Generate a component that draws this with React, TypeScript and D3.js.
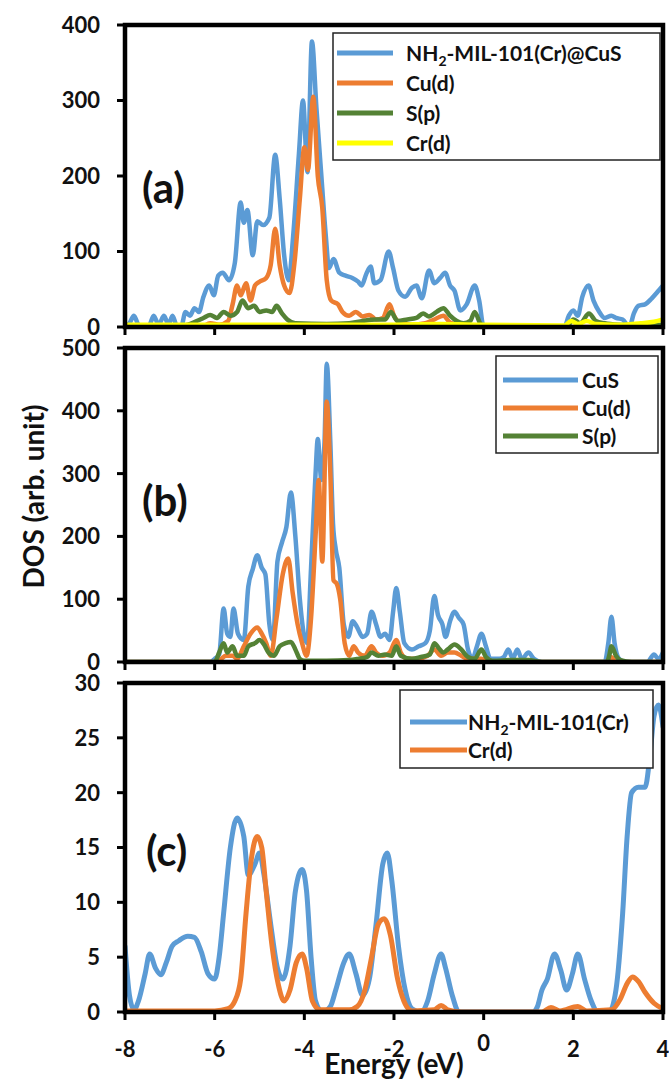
import React from "react";
import * as d3 from "d3";

type Pt = [number, number];

// Shared energy axis (eV)
const energyTicks: number[] = [-8, -6, -4, -2, 0, 2, 4];
const energyDomain: [number, number] = [-8, 4];

// DOS tick values per panel
const ticksA: number[] = [0, 100, 200, 300, 400];
const ticksB: number[] = [0, 100, 200, 300, 400, 500];
const ticksC: number[] = [0, 5, 10, 15, 20, 25, 30];

// (a) NH2-MIL-101(Cr)@CuS composite
const compositeTotal: Pt[] = [
  [-8.0, 0], [-7.9, 5], [-7.8, 15], [-7.7, 3], [-7.55, 0], [-7.45, 3], [-7.36, 15], [-7.25, 3],
  [-7.13, 15], [-7.03, 3], [-6.94, 15], [-6.85, 2], [-6.75, 0], [-6.65, 20], [-6.55, 15], [-6.45, 25],
  [-6.35, 20], [-6.25, 40], [-6.12, 55], [-6.02, 42], [-5.92, 68], [-5.82, 72], [-5.68, 62], [-5.55, 85],
  [-5.42, 165], [-5.35, 138], [-5.27, 155], [-5.15, 95], [-5.05, 140], [-4.92, 135], [-4.78, 145],
  [-4.65, 228], [-4.55, 170], [-4.45, 95], [-4.35, 62], [-4.25, 120], [-4.12, 230], [-4.03, 300],
  [-3.93, 205], [-3.83, 378], [-3.73, 290], [-3.62, 200], [-3.52, 120], [-3.45, 78], [-3.35, 90],
  [-3.22, 72], [-3.08, 68], [-2.93, 65], [-2.8, 60], [-2.72, 55], [-2.62, 70], [-2.52, 80], [-2.44, 58],
  [-2.3, 62], [-2.12, 100], [-2.02, 78], [-1.9, 48], [-1.75, 40], [-1.6, 52], [-1.5, 55], [-1.38, 38],
  [-1.22, 75], [-1.1, 58], [-0.97, 65], [-0.86, 72], [-0.75, 55], [-0.65, 48], [-0.52, 22], [-0.38, 30],
  [-0.2, 55], [-0.1, 35], [0.0, 0], [1.8, 0], [1.9, 15], [2.0, 22], [2.1, 15], [2.2, 40], [2.34, 55],
  [2.45, 35], [2.58, 20], [2.7, 12], [2.85, 15], [2.95, 12], [3.1, 10], [3.25, 0], [3.35, 18],
  [3.45, 28], [3.6, 30], [3.75, 38], [3.9, 48], [4.0, 55],
];
const compositeCuD: Pt[] = [
  [-8, 0], [-6.3, 0], [-6.1, 5], [-5.9, 3], [-5.7, 8], [-5.6, 30], [-5.5, 55], [-5.42, 42], [-5.3, 58],
  [-5.2, 35], [-5.1, 55], [-5.0, 60], [-4.85, 65], [-4.75, 82], [-4.65, 130], [-4.55, 82], [-4.45, 55],
  [-4.33, 45], [-4.22, 85], [-4.1, 170], [-4.0, 238], [-3.92, 208], [-3.8, 305], [-3.7, 200],
  [-3.6, 158], [-3.5, 62], [-3.4, 35], [-3.25, 30], [-3.15, 20], [-3.0, 15], [-2.85, 20], [-2.7, 14],
  [-2.55, 16], [-2.4, 10], [-2.25, 12], [-2.1, 30], [-2.0, 15], [-1.85, 5], [-1.6, 3], [-1.3, 5],
  [-1.1, 10], [-0.9, 15], [-0.75, 6], [-0.5, 2], [0, 0], [4, 0],
];
const compositeSP: Pt[] = [
  [-8, 0], [-7, 0], [-6.6, 3], [-6.4, 8], [-6.25, 12], [-6.1, 16], [-5.95, 12], [-5.8, 20], [-5.65, 15],
  [-5.5, 20], [-5.38, 35], [-5.25, 25], [-5.12, 28], [-5.0, 20], [-4.85, 22], [-4.72, 20], [-4.62, 28],
  [-4.5, 18], [-4.38, 10], [-4.2, 5], [-3.5, 4], [-3.0, 5], [-2.7, 8], [-2.4, 10], [-2.2, 10],
  [-2.07, 20], [-1.92, 8], [-1.7, 10], [-1.5, 12], [-1.35, 18], [-1.22, 14], [-1.05, 20], [-0.9, 25],
  [-0.75, 15], [-0.6, 8], [-0.45, 5], [-0.3, 8], [-0.2, 20], [-0.08, 5], [0, 0], [1.85, 0], [2.0, 10],
  [2.15, 5], [2.35, 18], [2.5, 8], [2.7, 5], [3.0, 3], [3.5, 2], [4.0, 3],
];
const compositeCrD: Pt[] = [
  [-8, 3], [-6, 3], [-4, 3], [-2, 3], [-1, 4], [0, 3], [1.8, 2], [1.95, 8], [2.1, 4], [2.3, 8],
  [2.5, 4], [3.0, 3], [3.5, 5], [3.8, 7], [4.0, 10],
];

// (b) bare CuS
const cusTotal: Pt[] = [
  [-8, 0], [-6.1, 0], [-6.0, 5], [-5.9, 12], [-5.8, 85], [-5.72, 45], [-5.65, 40], [-5.58, 85],
  [-5.48, 45], [-5.35, 35], [-5.25, 120], [-5.15, 148], [-5.05, 170], [-4.95, 150], [-4.87, 140],
  [-4.78, 60], [-4.7, 35], [-4.6, 160], [-4.5, 190], [-4.4, 215], [-4.3, 270], [-4.2, 200], [-4.1, 100],
  [-4.0, 40], [-3.94, 30], [-3.85, 150], [-3.75, 300], [-3.7, 355], [-3.62, 290], [-3.55, 350],
  [-3.5, 475], [-3.42, 350], [-3.36, 220], [-3.3, 180], [-3.22, 150], [-3.12, 60], [-3.02, 40],
  [-2.92, 65], [-2.82, 55], [-2.7, 40], [-2.6, 45], [-2.5, 80], [-2.4, 60], [-2.3, 40], [-2.2, 45],
  [-2.1, 35], [-2.02, 80], [-1.95, 118], [-1.87, 80], [-1.77, 30], [-1.6, 20], [-1.45, 25], [-1.3, 30],
  [-1.2, 50], [-1.1, 105], [-1.02, 75], [-0.92, 60], [-0.85, 40], [-0.75, 65], [-0.65, 80], [-0.55, 70],
  [-0.45, 60], [-0.35, 20], [-0.25, 5], [-0.15, 25], [-0.05, 45], [0.05, 25], [0.15, 5], [0.35, 5],
  [0.45, 8], [0.55, 20], [0.65, 5], [0.75, 20], [0.85, 5], [1.0, 15], [1.12, 5], [1.3, 0], [2.7, 0],
  [2.78, 30], [2.85, 72], [2.92, 30], [3.02, 5], [3.15, 0], [3.65, 0], [3.8, 12], [3.9, 5], [4.0, 15],
];
const cusCuD: Pt[] = [
  [-8, 0], [-6.0, 0], [-5.85, 5], [-5.75, 10], [-5.6, 10], [-5.5, 5], [-5.35, 25], [-5.2, 45],
  [-5.05, 55], [-4.95, 45], [-4.85, 30], [-4.75, 10], [-4.62, 70], [-4.48, 140], [-4.36, 165],
  [-4.26, 110], [-4.15, 60], [-4.05, 30], [-3.95, 10], [-3.85, 70], [-3.75, 200], [-3.68, 290],
  [-3.6, 160], [-3.5, 415], [-3.42, 300], [-3.35, 130], [-3.28, 125], [-3.2, 100], [-3.1, 30],
  [-3.0, 10], [-2.9, 25], [-2.8, 15], [-2.65, 10], [-2.5, 25], [-2.4, 15], [-2.25, 10], [-2.1, 15],
  [-1.95, 35], [-1.85, 15], [-1.7, 5], [-1.5, 5], [-1.25, 10], [-1.1, 20], [-0.95, 10], [-0.8, 15],
  [-0.65, 15], [-0.5, 10], [-0.35, 5], [-0.15, 5], [-0.05, 5], [0.1, 0], [2.75, 0], [2.85, 8],
  [2.95, 0], [4, 0],
];
const cusSP: Pt[] = [
  [-8, 0], [-6.0, 0], [-5.9, 15], [-5.8, 30], [-5.72, 15], [-5.6, 25], [-5.5, 10], [-5.35, 10],
  [-5.25, 25], [-5.1, 30], [-5.0, 35], [-4.9, 28], [-4.8, 15], [-4.68, 10], [-4.55, 25], [-4.42, 30],
  [-4.3, 32], [-4.2, 20], [-4.1, 5], [-4.0, 2], [-3.5, 2], [-3.0, 3], [-2.8, 5], [-2.6, 8], [-2.5, 15],
  [-2.35, 10], [-2.2, 12], [-2.05, 10], [-1.95, 25], [-1.85, 10], [-1.6, 5], [-1.4, 8], [-1.2, 12],
  [-1.1, 30], [-1.0, 22], [-0.9, 15], [-0.8, 20], [-0.65, 28], [-0.5, 20], [-0.35, 8], [-0.2, 5],
  [-0.05, 20], [0.05, 8], [0.2, 2], [0.6, 3], [1.0, 3], [1.3, 0], [2.75, 0], [2.8, 10], [2.85, 25],
  [2.95, 10], [3.05, 3], [3.3, 0], [4, 0],
];

// (c) pristine NH2-MIL-101(Cr)
const mofTotal: Pt[] = [
  [-8.0, 6], [-7.9, 1.5], [-7.8, 0.2], [-7.7, 1], [-7.55, 3.5], [-7.45, 5.3], [-7.32, 4], [-7.2, 3.4],
  [-7.08, 4.5], [-6.95, 6], [-6.8, 6.5], [-6.6, 6.9], [-6.45, 6.8], [-6.3, 5.5], [-6.15, 3.5], [-6.0, 3],
  [-5.9, 5], [-5.8, 9], [-5.65, 15], [-5.5, 17.7], [-5.35, 16], [-5.25, 12.5], [-5.1, 13.5], [-5.0, 14.5],
  [-4.9, 12.5], [-4.75, 8], [-4.6, 4], [-4.48, 3], [-4.32, 6], [-4.2, 11], [-4.05, 13], [-3.95, 11],
  [-3.85, 5], [-3.75, 1], [-3.6, 0], [-3.42, 0.5], [-3.3, 2], [-3.12, 4.5], [-3.0, 5.3], [-2.85, 3.5],
  [-2.7, 1.5], [-2.55, 3], [-2.4, 8], [-2.25, 13.5], [-2.15, 14.5], [-2.05, 12], [-1.9, 6], [-1.75, 2],
  [-1.6, 0.3], [-1.4, 0], [-1.25, 1], [-1.1, 3.5], [-0.95, 5.3], [-0.85, 4], [-0.7, 1.5], [-0.55, 0],
  [1.1, 0], [1.2, 0.5], [1.3, 2], [1.42, 3], [1.58, 5.3], [1.72, 3.8], [1.85, 2], [1.98, 3.5], [2.1, 5.3],
  [2.25, 3], [2.4, 1], [2.55, 0], [2.8, 0], [2.95, 2], [3.1, 9], [3.2, 16], [3.3, 20], [3.45, 20.5],
  [3.6, 20.5], [3.7, 23], [3.8, 27], [3.9, 28], [4.0, 26],
];
const mofCrD: Pt[] = [
  [-8, 0.1], [-6, 0.1], [-5.7, 0.3], [-5.55, 1], [-5.42, 3], [-5.3, 9], [-5.18, 14], [-5.05, 16],
  [-4.95, 15], [-4.85, 11], [-4.72, 6], [-4.58, 2.5], [-4.45, 1], [-4.32, 2], [-4.18, 4.5], [-4.05, 5.3],
  [-3.95, 4], [-3.82, 1], [-3.65, 0.2], [-3.0, 0.2], [-2.82, 0.5], [-2.65, 2], [-2.5, 5], [-2.35, 8],
  [-2.22, 8.5], [-2.08, 7], [-1.92, 3], [-1.78, 1], [-1.6, 0.1], [-1.1, 0.2], [-0.95, 0.6], [-0.8, 0.2],
  [-0.5, 0], [1.3, 0], [1.5, 0.4], [1.7, 0.1], [2.1, 0.5], [2.3, 0.1], [2.85, 0.2], [3.05, 1.2],
  [3.2, 2.6], [3.32, 3.2], [3.45, 2.8], [3.6, 1.8], [3.8, 0.8], [4.0, 0.3],
];

const BLUE = "#5B9BD5";
const ORANGE = "#ED7D31";
const GREEN = "#548235";
const YELLOW = "#FFFF00";
const FONT = "Lato, 'Open Sans', sans-serif";

type Series = { name: string; sub?: boolean; data: Pt[]; color: string };
type LegendCfg = { x0: number; y0: number; x1: number; y1: number; rowY: number[]; lineX: [number, number]; textX: number };
type Panel = {
  id: string;
  label: string;
  top: number;
  bottom: number;
  max: number;
  ticks: number[];
  width: number;
  series: Series[];
  legend: LegendCfg;
  labelPos: [number, number];
};

const X0 = 125;
const X1 = 663;

const panels: Panel[] = [
  {
    id: "a", label: "(a)", top: 25, bottom: 327, max: 400, ticks: ticksA, width: 4.5,
    series: [
      { name: "-MIL-101(Cr)@CuS", sub: true, data: compositeTotal, color: BLUE },
      { name: "Cu(d)", data: compositeCuD, color: ORANGE },
      { name: "S(p)", data: compositeSP, color: GREEN },
      { name: "Cr(d)", data: compositeCrD, color: YELLOW },
    ],
    legend: { x0: 333, y0: 33, x1: 660, y1: 160, rowY: [53, 83, 113, 143], lineX: [337, 393], textX: 406 },
    labelPos: [142, 203],
  },
  {
    id: "b", label: "(b)", top: 348, bottom: 662, max: 500, ticks: ticksB, width: 4.5,
    series: [
      { name: "CuS", data: cusTotal, color: BLUE },
      { name: "Cu(d)", data: cusCuD, color: ORANGE },
      { name: "S(p)", data: cusSP, color: GREEN },
    ],
    legend: { x0: 496, y0: 356, x1: 658, y1: 453, rowY: [380, 408, 436], lineX: [503, 578], textX: 582 },
    labelPos: [142, 516],
  },
  {
    id: "c", label: "(c)", top: 683, bottom: 1012, max: 30, ticks: ticksC, width: 5,
    series: [
      { name: "-MIL-101(Cr)", sub: true, data: mofTotal, color: BLUE },
      { name: "Cr(d)", data: mofCrD, color: ORANGE },
    ],
    legend: { x0: 400, y0: 690, x1: 653, y1: 768, rowY: [722, 750], lineX: [410, 467], textX: 468 },
    labelPos: [146, 866],
  },
];

const x = d3.scaleLinear().domain(energyDomain).range([X0, X1]);

function PanelView({ p }: { p: Panel }) {
  const y = d3.scaleLinear().domain([0, p.max]).range([p.bottom, p.top]);
  const line = d3
    .line<Pt>()
    .x((d) => x(d[0]))
    .y((d) => y(d[1]))
    .curve(d3.curveMonotoneX);
  const clipId = `clip-${p.id}`;
  const lg = p.legend;
  return (
    <g>
      <defs>
        <clipPath id={clipId}>
          <rect x={X0} y={p.top} width={X1 - X0} height={p.bottom - p.top} />
        </clipPath>
      </defs>
      <g clipPath={`url(#${clipId})`}>
        {p.series.map((s) => (
          <path
            key={s.color}
            d={line(s.data) ?? ""}
            fill="none"
            stroke={s.color}
            strokeWidth={p.width}
            strokeLinejoin="round"
            strokeLinecap="round"
          />
        ))}
      </g>
      {/* frame */}
      <rect x={X0} y={p.top} width={X1 - X0} height={p.bottom - p.top} fill="none" stroke="#000" strokeWidth={4.5} />
      {/* y ticks */}
      {p.ticks.map((t) => (
        <g key={t}>
          <line x1={X0 - 8} x2={X0} y1={y(t)} y2={y(t)} stroke="#000" strokeWidth={3} />
          <text
            x={100}
            y={y(t)}
            dy="0.36em"
            textAnchor="end"
            fontFamily={FONT}
            fontWeight={700}
            fontSize={22}
            fill="#111"
          >
            {t}
          </text>
        </g>
      ))}
      {/* x ticks */}
      {energyTicks.map((t) => (
        <line key={t} x1={x(t)} x2={x(t)} y1={p.bottom} y2={p.bottom + 8} stroke="#000" strokeWidth={3} />
      ))}
      {/* panel tag */}
      <text x={p.labelPos[0]} y={p.labelPos[1]} fontFamily={FONT} fontWeight={700} fontSize={42} fill="#111">
        {p.label}
      </text>
      {/* legend */}
      <rect x={lg.x0} y={lg.y0} width={lg.x1 - lg.x0} height={lg.y1 - lg.y0} fill="#fff" stroke="#222" strokeWidth={1.5} />
      {p.series.map((s, i) => (
        <g key={s.color}>
          <line x1={lg.lineX[0]} x2={lg.lineX[1]} y1={lg.rowY[i]} y2={lg.rowY[i]} stroke={s.color} strokeWidth={5} />
          <text
            x={lg.textX}
            y={lg.rowY[i]}
            dy="0.36em"
            fontFamily={FONT}
            fontWeight={700}
            fontSize={21}
            fill="#111"
          >
            {s.sub ? (
              <>
                NH
                <tspan fontSize={14} dy={5}>2</tspan>
                <tspan dy={-5}>{s.name}</tspan>
              </>
            ) : (
              s.name
            )}
          </text>
        </g>
      ))}
    </g>
  );
}

export default function App() {
  const bottom = panels[2].bottom;
  return (
    <svg
      width={669}
      height={1083}
      viewBox="0 0 669 1083"
      style={{ position: "absolute", left: 0, top: 0, background: "#fff" }}
    >
      <rect width={669} height={1083} fill="#fff" />
      {panels.map((p) => (
        <PanelView key={p.id} p={p} />
      ))}
      {/* energy tick labels */}
      {energyTicks.map((t) => (
        <text
          key={t}
          x={x(t)}
          y={t === 0 ? 1051 : 1057}
          textAnchor="middle"
          fontFamily={FONT}
          fontWeight={700}
          fontSize={22}
          fill="#111"
        >
          {t}
        </text>
      ))}
      <text x={394} y={1074} textAnchor="middle" fontFamily={FONT} fontWeight={700} fontSize={28} fill="#111">
        Energy (eV)
      </text>
      <text
        transform={`translate(44, ${(panels[0].top + bottom) / 2 - 22}) rotate(-90)`}
        textAnchor="middle"
        fontFamily={FONT}
        fontWeight={700}
        fontSize={28}
        fill="#111"
      >
        DOS (arb. unit)
      </text>
    </svg>
  );
}
